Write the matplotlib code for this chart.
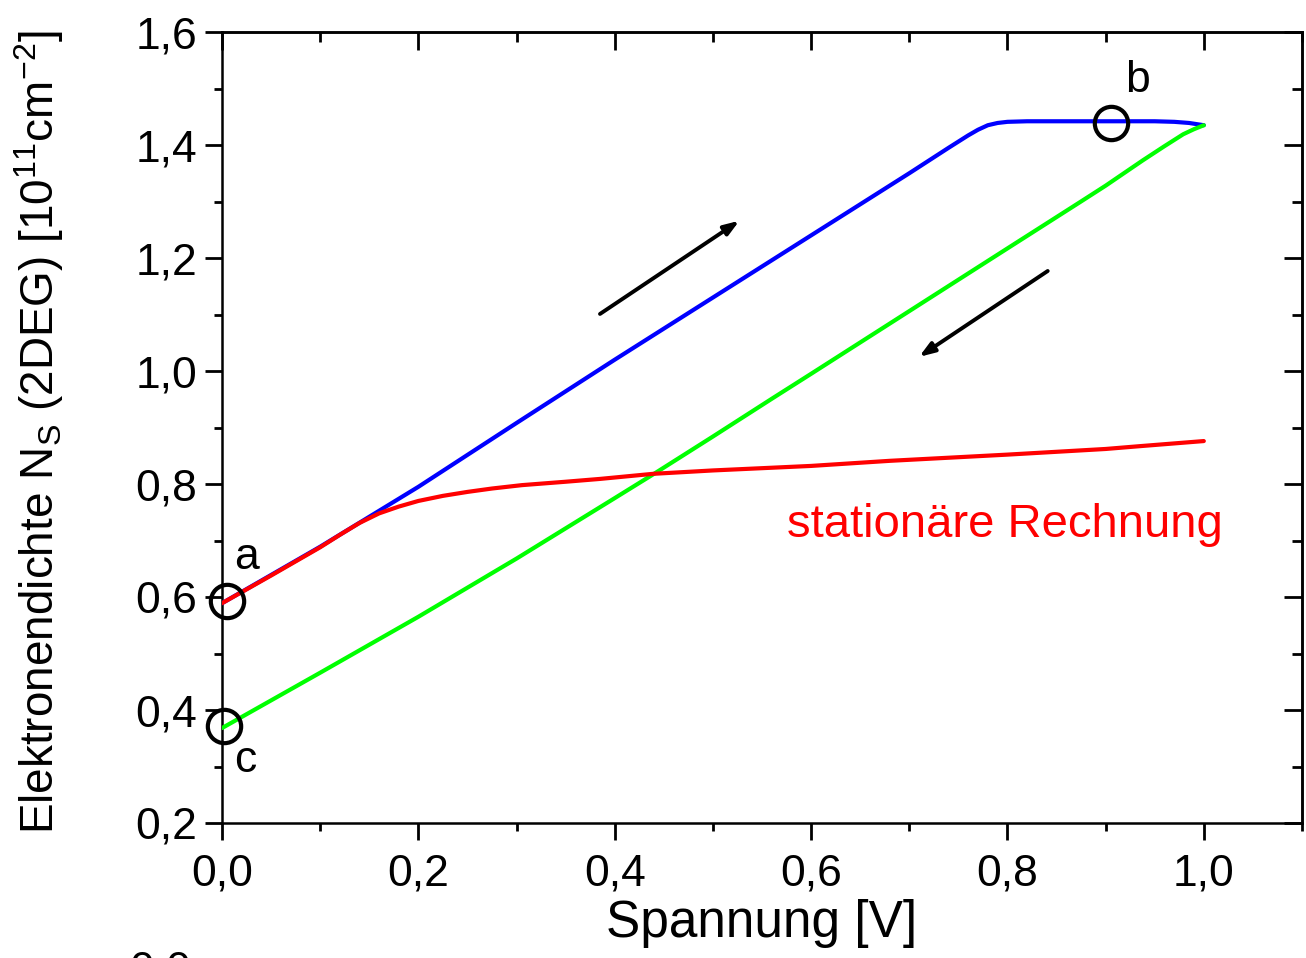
import numpy as np
import matplotlib
matplotlib.use("Agg")
import matplotlib.pyplot as plt
from matplotlib.ticker import FixedLocator, MultipleLocator, FuncFormatter

# ---- data ----
blue_x = [0.0, 0.1, 0.2, 0.3, 0.4, 0.5, 0.6, 0.7, 0.74, 0.76, 0.77, 0.78, 0.79, 0.80, 0.82, 0.85, 0.9, 0.95, 0.97, 0.985, 1.0]
blue_y = [0.589, 0.689, 0.795, 0.908, 1.020, 1.130, 1.240, 1.350, 1.395, 1.417, 1.427, 1.435, 1.439, 1.441, 1.442, 1.442, 1.442, 1.442, 1.441, 1.439, 1.435]

green_x = [0.0, 0.1, 0.2, 0.3, 0.4, 0.44, 0.5, 0.561, 0.6, 0.7, 0.8, 0.874, 0.9, 0.938, 0.96, 0.979, 0.99, 1.0]
green_y = [0.368, 0.466, 0.565, 0.668, 0.775, 0.818, 0.884, 0.952, 0.995, 1.106, 1.217, 1.299, 1.328, 1.373, 1.398, 1.419, 1.428, 1.435]

red_x = [0.0, 0.05, 0.1, 0.12, 0.14, 0.16, 0.18, 0.2, 0.225, 0.25, 0.275, 0.3055, 0.35, 0.385, 0.439, 0.5, 0.6, 0.68, 0.8, 0.9, 0.935, 1.0]
red_y = [0.589, 0.638, 0.688, 0.710, 0.731, 0.748, 0.760, 0.770, 0.779, 0.786, 0.792, 0.798, 0.804, 0.809, 0.818, 0.824, 0.832, 0.841, 0.852, 0.862, 0.867, 0.876]

circle_x = [0.005, 0.905, 0.002]
circle_y = [0.593, 1.439, 0.372]
point_labels = ["a", "b", "c"]
label_x = [0.012, 0.920, 0.012]
label_y = [0.670, 1.515, 0.310]

arrow_up = ((0.385, 1.101), (0.527, 1.266))
arrow_down = ((0.841, 1.177), (0.710, 1.025))

x_ticks = [0.0, 0.2, 0.4, 0.6, 0.8, 1.0]
y_ticks = [0.2, 0.4, 0.6, 0.8, 1.0, 1.2, 1.4, 1.6]

plt.rcParams['font.family'] = ['Liberation Sans', 'DejaVu Sans']
plt.rcParams['mathtext.fontset'] = 'custom'
plt.rcParams['mathtext.rm'] = 'Liberation Sans'
plt.rcParams['mathtext.it'] = 'Liberation Sans:italic'

fig = plt.figure(figsize=(13.06, 9.58), dpi=100)
ax = fig.add_axes([222/1306, 1-823/958, (1302-222)/1306, (823-32)/958])

ax.plot(blue_x, blue_y, color='#0000ff', lw=3.0, solid_capstyle='round', solid_joinstyle='round', zorder=3)
ax.plot(green_x, green_y, color='#00ff00', lw=3.0, solid_capstyle='round', solid_joinstyle='round', zorder=3)
ax.plot(red_x, red_y, color='#ff0000', lw=3.0, solid_capstyle='round', solid_joinstyle='round', zorder=4)

ax.plot(circle_x, circle_y, ls='none', marker='o', ms=24, mfc='none', mec='black', mew=3.0,
        zorder=5, clip_on=False)
for t, lx, ly in zip(point_labels, label_x, label_y):
    ax.text(lx, ly, t, fontsize=32, ha='left', va='center', color='black', zorder=6)

for (s, e) in (arrow_up, arrow_down):
    ax.annotate('', xy=e, xytext=s,
                arrowprops=dict(arrowstyle='-|>,head_length=0.9,head_width=0.32',
                                color='black', lw=2.8, shrinkA=0, shrinkB=0,
                                capstyle='round'))

ax.text(0.797, 0.727, 'stationäre Rechnung', color='#ff0000', fontsize=34,
        ha='center', va='center')

ax.set_xlim(0, 1.1)
ax.set_ylim(0.2, 1.6)
ax.xaxis.set_major_locator(FixedLocator(x_ticks))
ax.xaxis.set_minor_locator(MultipleLocator(0.1))
ax.yaxis.set_major_locator(FixedLocator(y_ticks))
ax.yaxis.set_minor_locator(MultipleLocator(0.1))
fmt = FuncFormatter(lambda v, p: f"{v:.1f}".replace('.', ','))
ax.xaxis.set_major_formatter(fmt)
ax.yaxis.set_major_formatter(fmt)

ax.tick_params(axis='both', which='major', direction='out', length=12, width=2.0,
               labelsize=32, colors='black', pad=6)
ax.tick_params(axis='both', which='minor', direction='out', length=6, width=2.0)
ax.tick_params(axis='x', which='major', pad=10)

for s in ax.spines.values():
    s.set_linewidth(1.8)

# top and right inward ticks
axt = ax.secondary_xaxis('top')
axt.xaxis.set_major_locator(FixedLocator(x_ticks))
axt.xaxis.set_minor_locator(MultipleLocator(0.1))
axt.tick_params(which='major', direction='in', length=13, width=2.0, labeltop=False)
axt.tick_params(which='minor', direction='in', length=7, width=2.0)
axt.spines['top'].set_linewidth(1.8)
axr = ax.secondary_yaxis('right')
axr.yaxis.set_major_locator(FixedLocator(y_ticks))
axr.yaxis.set_minor_locator(MultipleLocator(0.1))
axr.tick_params(which='major', direction='in', length=13, width=2.0, labelright=False)
axr.tick_params(which='minor', direction='in', length=7, width=2.0)
axr.spines['right'].set_linewidth(1.8)

ax.set_xlabel('Spannung [V]', fontsize=37)
ax.xaxis.set_label_coords(0.5, -(948-823)/791)
ax.xaxis.label.set_va('bottom')
ax.set_ylabel(r'Elektronendichte N$_\mathregular{S}$ (2DEG) [10$^{11}$cm$^{-2}$]',
              fontsize=33)
ax.yaxis.set_label_coords(-(222-66)/1080, 0.494)

# clipped label of the chart below
fig.text(160/1306, 1-950/958, '0,0', fontsize=32, ha='center', va='top')

fig.savefig('out.png', dpi=100)
